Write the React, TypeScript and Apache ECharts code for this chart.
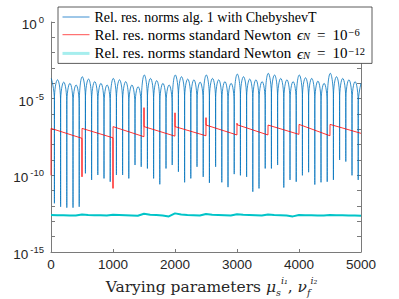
import React, { useEffect, useRef } from "react";
import * as echarts from "echarts";

// ---------------- data ----------------
const xTicks = [0, 1000, 2000, 3000, 4000, 5000];

// blue series: 50 arches (5 per block of 500 parameter samples)
const archPeriod = 100;
const archPeakOffset = 5;
const archDipOffset = 55;
const bluePeaks = [
  2.1e-4, 1.7e-4, 1.2e-4, 1.0e-4, 7.8e-5,
  2.7e-4, 1.9e-4, 1.3e-4, 1.0e-4, 7.8e-5,
  2.1e-4, 1.7e-4, 1.3e-4, 7.8e-5, 6.0e-5,
  3.5e-4, 2.1e-4, 1.5e-4, 1.0e-4, 7.8e-5,
  3.5e-4, 2.7e-4, 1.9e-4, 1.7e-4, 1.2e-4,
  3.5e-4, 2.1e-4, 1.7e-4, 1.3e-4, 1.0e-4,
  4.0e-4, 2.7e-4, 1.9e-4, 1.7e-4, 1.3e-4,
  4.5e-4, 3.5e-4, 2.1e-4, 1.7e-4, 1.3e-4,
  3.5e-4, 2.3e-4, 2.1e-4, 1.4e-4, 1.0e-4,
  4.5e-4, 2.7e-4, 2.1e-4, 1.7e-4, 1.3e-4,
];
// level where two neighbouring arches meet, just above each dip
const blueKnees = [
  7.9e-6, 5.0e-6, 4.0e-6, 3.2e-6, 3.2e-6,
  7.9e-6, 5.0e-6, 4.0e-6, 3.2e-6, 3.2e-6,
  6.3e-6, 5.0e-6, 3.2e-6, 2.5e-6, 2.5e-6,
  7.9e-6, 6.3e-6, 4.0e-6, 3.2e-6, 3.2e-6,
  1.0e-5, 7.9e-6, 6.3e-6, 5.0e-6, 5.0e-6,
  7.9e-6, 6.3e-6, 5.0e-6, 4.0e-6, 4.0e-6,
  1.0e-5, 7.9e-6, 6.3e-6, 5.0e-6, 5.0e-6,
  1.26e-5, 7.9e-6, 6.3e-6, 5.0e-6, 5.0e-6,
  1.0e-5, 7.9e-6, 5.0e-6, 4.0e-6, 4.0e-6,
  1.0e-5, 7.9e-6, 6.3e-6, 5.0e-6, 4.0e-6,
];
const blueDips = [
  1.5e-12, 8.9e-13, 7.8e-13, 7.8e-13, 8.9e-13,
  1.35e-10, 5.0e-11, 1.05e-10, 6.3e-11, 3.8e-11,
  1.05e-10, 1.05e-10, 6.3e-11, 4.7e-10, 3.6e-10,
  2.8e-10, 6.3e-11, 2.6e-11, 2.8e-10, 4.7e-10,
  1.7e-10, 3.5e-11, 6.3e-11, 3.6e-10, 7.9e-11,
  3.2e-11, 3.6e-10, 3.5e-11, 1.7e-11, 1.2e-10,
  1.0e-10, 7.9e-11, 8.5e-12, 1.4e-11, 2.8e-10,
  2.8e-10, 4.7e-10, 1.6e-11, 5.0e-11, 3.8e-11,
  1.0e-10, 1.6e-10, 2.5e-11, 3.5e-11, 3.8e-11,
  5.0e-11, 1.0e-9, 7.9e-10, 1.0e-10, 5.0e-11,
];
const blueLastX = 5000;
const blueLast = 1.0e-4;

// red series: one decaying segment per block of 500 samples
const redBlockLength = 500;
const redSpikes = [1.0e-10, 8.0e-11, 1.4e-11, 2.6e-6, 1.2e-6, 5.8e-7, 2.5e-7, null, null, null];
const redStarts = [1.15e-7, 1.15e-7, 1.5e-7, 1.5e-7, 1.5e-7, 1.9e-7, 2.0e-7, 1.9e-7, 2.1e-7, 2.1e-7];
const redEnds = [2.6e-8, 2.8e-8, 3.3e-8, 3.6e-8, 3.8e-8, 4.3e-8, 4.3e-8, 4.7e-8, 3.8e-8, 5.5e-8];

// cyan series sampled every 100 parameters
const cyanStep = 100;
const cyanValues = [
  2.6e-13, 2.5e-13, 2.5e-13, 2.4e-13, 2.4e-13, 2.8e-13, 2.6e-13, 2.5e-13, 2.5e-13, 2.4e-13,
  2.7e-13, 2.6e-13, 2.5e-13, 2.4e-13, 2.3e-13, 3.1e-13, 2.7e-13, 2.6e-13, 2.4e-13, 2.1e-13,
  3.3e-13, 2.8e-13, 2.6e-13, 2.5e-13, 2.4e-13, 3.0e-13, 2.7e-13, 2.6e-13, 2.5e-13, 2.4e-13,
  2.9e-13, 2.7e-13, 2.6e-13, 2.5e-13, 2.4e-13, 2.8e-13, 2.6e-13, 2.5e-13, 2.4e-13, 2.1e-13,
  2.6e-13, 2.5e-13, 2.5e-13, 2.4e-13, 2.4e-13, 2.6e-13, 2.5e-13, 2.5e-13, 2.4e-13, 2.4e-13,
  2.3e-13,
];

const seriesNames = [
  "Rel. res. norms alg. 1 with ChebyshevT",
  "Rel. res. norms standard Newton eps 1e-6",
  "Rel. res. norms standard Newton eps 1e-12",
];
const legendRich: Record<string, string> = {
  [seriesNames[0]]: "{t|Rel. res. norms alg. 1 with ChebyshevT}",
  [seriesNames[1]]: "{t2|Rel. res. norms standard Newton }{i|ϵ}{sb|N}{eq|=}{t2|10}{sp|−6}",
  [seriesNames[2]]: "{t2|Rel. res. norms standard Newton }{i|ϵ}{sb|N}{eq|=}{t2|10}{sp|−12}",
};

// ---------------- styles ----------------
const SANS = "'Liberation Sans', Arial, Helvetica, sans-serif";
const SERIF = "'Liberation Serif', 'DejaVu Serif', 'Times New Roman', serif";
const SERIF_WIDE = "'DejaVu Serif', 'Liberation Serif', serif";
const AXIS_COLOR = "#7a7a7a";
const TEXT_COLOR = "#262626";
const BLUE = "#0072BD";
const RED = "#ff0000";
const CYAN = "#00c4c8";

export default function App() {
  const ref = useRef<HTMLDivElement>(null);
  useEffect(() => {
    if (!ref.current) return;
    const chart = echarts.init(ref.current, undefined, { renderer: "svg" });

    const blueData: [number, number][] = [];
    bluePeaks.forEach((p, k) => {
      const xp = k * archPeriod + archPeakOffset;
      const xd = k * archPeriod + archDipOffset;
      blueData.push([xp, p]);
      blueData.push([xd, blueKnees[k]]);
      blueData.push([xd, blueDips[k]]);
      blueData.push([xd, blueKnees[k]]);
    });
    blueData.push([blueLastX, blueLast]);

    const redData: [number, number][] = [];
    redStarts.forEach((s, b) => {
      const x0 = b * redBlockLength;
      const spike = redSpikes[b];
      if (spike != null) redData.push([x0, spike]);
      redData.push([x0 + 1, s]);
      const xe = b === redStarts.length - 1 ? x0 + redBlockLength : x0 + redBlockLength - 1;
      redData.push([xe, redEnds[b]]);
    });

    const cyanData = cyanValues.map((v, i) => [i * cyanStep, v]);

    const tickAxisBase = {
      type: "value" as const,
      min: -15,
      max: 0,
      interval: 1,
      axisLabel: { show: false },
      splitLine: { show: false },
      axisTick: { show: true, inside: true, length: 4, lineStyle: { color: AXIS_COLOR, width: 1 } },
    };

    const lg = (extra: object) => ({ fontFamily: SERIF, color: "#000", lineHeight: 15, ...extra });
    const xl = (extra: object) => ({ fontFamily: SERIF_WIDE, color: TEXT_COLOR, lineHeight: 22, ...extra });

    chart.setOption({
      animation: false,
      grid: { left: 51, right: 38, top: 22, bottom: 47, containLabel: false, outerBoundsMode: "none" },
      legend: {
        orient: "vertical",
        left: 58,
        top: 7,
        padding: [3, 7, 2, 3],
        itemGap: 2.7,
        itemWidth: 27,
        itemHeight: 12,
        backgroundColor: "#ffffff",
        borderColor: "#333333",
        borderWidth: 0.8,
        itemStyle: { opacity: 0, borderWidth: 0 },
        data: [
          { name: seriesNames[0], lineStyle: { color: "#3d8fd1", width: 1 } },
          { name: seriesNames[1], lineStyle: { color: "#ff5252", width: 1 } },
          { name: seriesNames[2], lineStyle: { color: "#a6eeee", width: 3 } },
        ],
        formatter: (name: string) => legendRich[name],
        textStyle: {
          fontFamily: SERIF,
          fontSize: 14,
          color: "#000",
          rich: {
            t: lg({ fontSize: 14 }),
            t2: lg({ fontSize: 15 }),
            i: lg({ fontSize: 15.5, fontStyle: "italic", padding: [0, 0, 0, 2] }),
            sb: lg({ fontSize: 10.5, fontStyle: "italic", verticalAlign: "bottom" }),
            sp: lg({ fontSize: 10.5, verticalAlign: "top", padding: [0, 0, 0, 1] }),
            eq: lg({ fontSize: 15, padding: [0, 7, 0, 7] }),
          },
        },
      },
      xAxis: {
        type: "value",
        min: xTicks[0],
        max: xTicks[xTicks.length - 1],
        interval: 1000,
        axisLine: { show: true, onZero: false, lineStyle: { color: AXIS_COLOR, width: 1 } },
        axisTick: { show: true, inside: true, length: 3, lineStyle: { color: AXIS_COLOR } },
        splitLine: { show: false },
        axisLabel: {
          fontFamily: SANS,
          fontSize: 13.5,
          color: TEXT_COLOR,
          margin: 5,
          showMinLabel: true,
          showMaxLabel: true,
          formatter: (v: number) => String(v),
        },
        name: "{t|Varying parameters }{m|μ}{sb|s}{sp|i₁}{t|, }{m|ν}{sb|f}{sp|i₂}",
        nameLocation: "middle",
        nameGap: 20,
        nameTextStyle: {
          fontFamily: SERIF_WIDE,
          fontSize: 15.5,
          color: TEXT_COLOR,
          padding: [0, 0, 0, 11],
          rich: {
            t: xl({ fontSize: 15.5 }),
            m: xl({ fontSize: 15.5, fontStyle: "italic" }),
            sb: xl({ fontSize: 9.5, fontStyle: "italic", verticalAlign: "bottom" }),
            sp: xl({ fontSize: 9.5, fontStyle: "italic", verticalAlign: "top" }),
          },
        },
      },
      yAxis: [
        {
          type: "log",
          logBase: 100000,
          min: 1e-15,
          max: 1,
          position: "left",
          axisLine: { show: true, lineStyle: { color: AXIS_COLOR, width: 1 } },
          axisTick: { show: false },
          minorTick: { show: false },
          splitLine: { show: false },
          axisLabel: {
            margin: 7,
            showMinLabel: true,
            showMaxLabel: true,
            formatter: (v: number) => `{b|10}{s|${Math.round(Math.log10(v))}}`,
            rich: {
              b: { fontFamily: SANS, fontSize: 13.5, color: TEXT_COLOR, lineHeight: 19, verticalAlign: "bottom" },
              s: { fontFamily: SANS, fontSize: 9.5, color: TEXT_COLOR, lineHeight: 19, verticalAlign: "top", padding: [2, 0, 0, 2] },
            },
          },
        },
        { ...tickAxisBase, position: "left", axisLine: { show: false } },
        { ...tickAxisBase, position: "right", axisLine: { show: true, lineStyle: { color: AXIS_COLOR, width: 1 } } },
      ],
      series: [
        {
          name: seriesNames[0],
          type: "line",
          data: blueData,
          yAxisIndex: 0,
          symbol: "none",
          smooth: 0.5,
          lineStyle: { color: BLUE, width: 0.8 },
          itemStyle: { color: BLUE, opacity: 0 },
          z: 2,
        },
        {
          name: seriesNames[1],
          type: "line",
          data: redData,
          yAxisIndex: 0,
          symbol: "none",
          lineStyle: { color: RED, width: 0.8 },
          itemStyle: { color: RED, opacity: 0 },
          z: 3,
        },
        {
          name: seriesNames[2],
          type: "line",
          data: cyanData,
          yAxisIndex: 0,
          symbol: "none",
          lineStyle: { color: CYAN, width: 2 },
          itemStyle: { color: CYAN, opacity: 0 },
          z: 4,
        },
      ],
    });
    return () => chart.dispose();
  }, []);
  return (
    <div
      ref={ref}
      style={{ position: "fixed", left: 0, top: 0, width: 399, height: 299, background: "#fff" }}
    />
  );
}
